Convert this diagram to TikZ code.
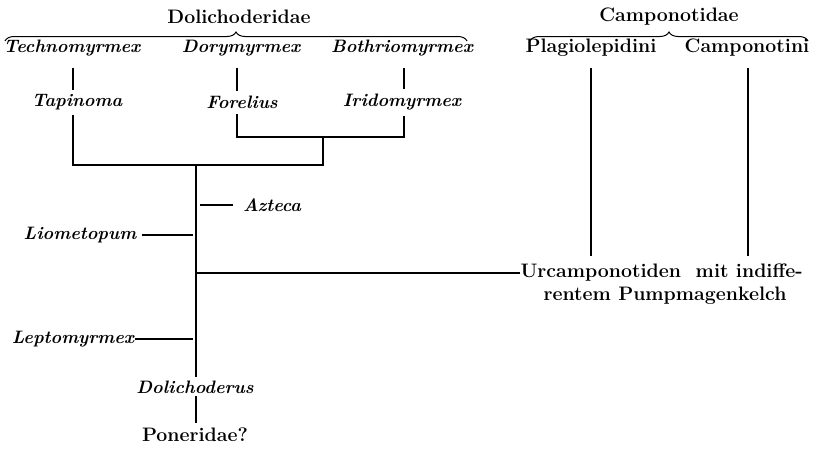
\documentclass[tikz,border=0pt]{standalone}
\usepackage{fontspec}
\setmainfont{Latin Modern Roman}
\usetikzlibrary{decorations.pathreplacing,calc}
\begin{document}
\begin{tikzpicture}[x=1pt,y=-1pt, line width=1.2pt,
  genus/.style={font=\fontsize{18}{21}\selectfont\bfseries\itshape, inner sep=0pt},
  taxon/.style={font=\fontsize{19.5}{23}\selectfont\bfseries, inner sep=0pt},
  bracedeco/.style={decorate, decoration={brace, amplitude=9pt}, line width=1pt}]
\useasboundingbox (0,0) rectangle (816,448);
% headings
\node[taxon] (dolfam) at (239,17) {Dolichoderidae};
\node[taxon] (campfam) at (669,17) {Camponotidae};
\coordinate (bl1) at (5,41); \coordinate (bl2) at (467,41);
\coordinate (br1) at (530,41); \coordinate (br2) at (808,41);
\draw[bracedeco] (bl1) -- (bl2);
\draw[bracedeco] (br1) -- (br2);
% top row
\node[genus] (tech) at (72,48) {Technomyrmex};
\node[genus] (dory) at (241,48) {Dorymyrmex};
\node[genus] (both) at (402,48) {Bothriomyrmex};
\node[taxon] (plag) at (591,48) {Plagiolepidini};
\node[taxon] (campi) at (747,48) {Camponotini};
% second row
\node[genus] (tap) at (77,102) {Tapinoma};
\node[genus] (for) at (242,102) {Forelius};
\node[genus] (irid) at (402,102) {Iridomyrmex};
% side genera
\node[genus] (azt) at (272,205) {Azteca};
\node[genus] (lio) at (80,235) {Liometopum};
\node[genus] (lep) at (73,339) {Leptomyrmex};
\node[genus] (dol) at (195,387) {Dolichoderus};
\node[taxon, anchor=base] (pon) at (195,441) {Poneridae?};
\node[taxon, anchor=west] (urc1) at (520,273) {Urcamponotiden\ \ mit indiffe-};
\node[taxon] (urc2) at (665,296) {rentem Pumpmagenkelch};
% junctions
\coordinate (mj) at (323,137);
\coordinate (bj) at (323,165);
\coordinate (root) at (196,165);
% connectors
\draw[shorten <=11pt, shorten >=4pt] (tech.south -| 73,0) -- (tap.north -| 73,0);
\draw[shorten <=11pt, shorten >=4pt] (dory.south -| 237,0) -- (for.north -| 237,0);
\draw[shorten <=11pt, shorten >=4pt] (both.south -| 404,0) -- (irid.north -| 404,0);
\draw[shorten <=5pt] (tap.south -| 73,0) |- (bj) -- (mj);
\draw[shorten <=5pt, shorten >=5pt] (for.south -| 237,0) |- (mj -| 404,0) -- (irid.south -| 404,0);
\draw[shorten >=3pt] (root) -- (dol.north -| root);
\draw[shorten <=2pt, shorten >=4pt] (dol.south -| root) -- (pon.north -| root);
\draw[shorten <=9pt, shorten >=4pt] (azt.west) -- (azt.west -| root);
\draw[shorten <=5pt, shorten >=3pt] (lio.east) -- (lio.east -| root);
\draw[shorten >=3pt] (lep.east) -- (lep.east -| root);
\draw (root |- urc1.west) -- (urc1.west);
\draw[shorten <=11pt, shorten >=8pt] (plag.south) -- (plag.south |- urc1.north);
\draw[shorten <=11pt, shorten >=8pt] (campi.south -| 748,0) -- (urc1.north -| 748,0);
\end{tikzpicture}
\end{document}
